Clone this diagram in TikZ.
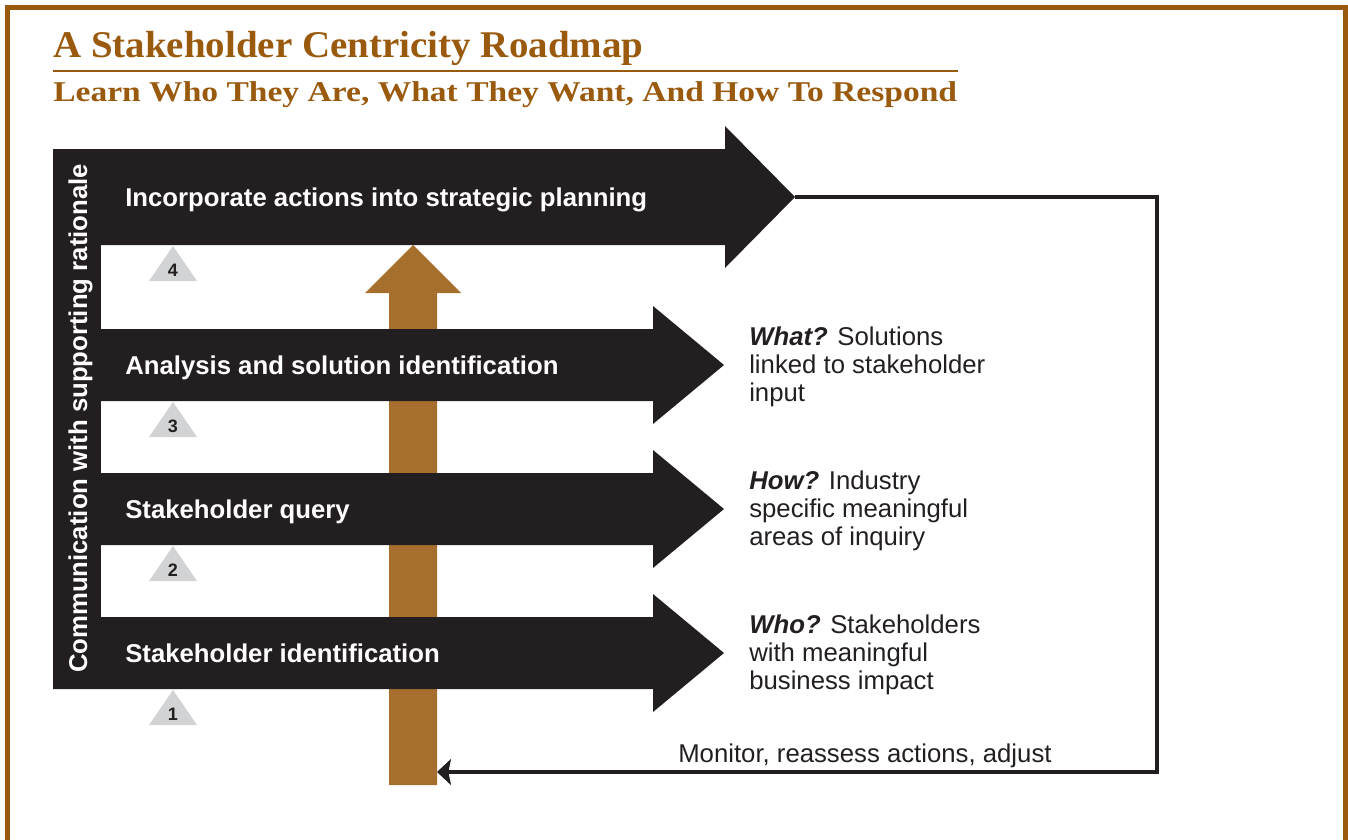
\documentclass[tikz,border=0pt]{standalone}
\usepackage{fontspec}
\setmainfont{Liberation Serif}
\newfontfamily\sansf{Liberation Sans}
\usetikzlibrary{arrows.meta}
\definecolor{tbrown}{HTML}{9A5A0E}
\definecolor{abrown}{HTML}{A76F2E}
\definecolor{ablack}{HTML}{231F20}
\definecolor{tgray}{HTML}{D1D3D4}
\begin{document}
\begin{tikzpicture}[x=0.75pt,y=-0.75pt,
  lbl/.style={text=white, font=\sansf\bfseries\fontsize{19.3}{23}\selectfont, anchor=base west, inner sep=0},
  side/.style={anchor=base west, inner sep=0, text=ablack},
  num/.style={font=\sansf\bfseries\fontsize{13.5}{16}\selectfont, text=ablack, anchor=base, inner sep=0},
  tri/.style={fill=tgray},
  blk/.style={fill=ablack},
  feedback/.style={draw=ablack, line width=3pt, -{Stealth[length=10.5pt,width=19.5pt,inset=2pt]}}
]
\useasboundingbox (0,0) rectangle (1348,839);
% frame
\draw[tbrown, line width=3.75pt] (7.5,850) -- (7.5,7.5) -- (1345.5,7.5) -- (1345.5,850);
% title
\node[anchor=base west, inner sep=0, text=tbrown, font=\bfseries\fontsize{28.3}{30}\selectfont] (title) at (53,57) {\scalebox{1.033}[1]{A Stakeholder Centricity Roadmap}};
\draw[tbrown, line width=1.5pt] (53,71) -- (958,71);
\node[anchor=base west, inner sep=0, text=tbrown, font=\bfseries\fontsize{21.5}{24}\selectfont] (subtitle) at (53,101) {\scalebox{1.17}[1]{Learn Who They Are, What They Want, And How To Respond}};
% brown upward arrow
\fill[abrown] (389,785) -- (437,785) -- (437,293) -- (461,293) -- (413,245) -- (365,293) -- (389,293) -- cycle;
% left bar
\fill[blk] (53,149) rectangle (101,689);
% arrow 4
\fill[blk] (53,149) -- (725,149) -- (725,126) -- (795,197) -- (725,268) -- (725,245) -- (53,245) -- cycle;
% arrows 3,2,1
\foreach \c in {365,509,653}{
  \fill[blk] (53,\c-36) -- (653,\c-36) -- (653,\c-59) -- (724,\c) -- (653,\c+59) -- (653,\c+36) -- (53,\c+36) -- cycle;
}
% triangles
\foreach \a/\n in {246/4,402/3,546/2,690/1}{
  \fill[tri] (173,\a) -- (197,\a+35) -- (149,\a+35) -- cycle;
  \node[num] (n\n) at (173,\a+30) {\n};
}
% vertical label
\node[text=white, font=\sansf\bfseries\fontsize{19.3}{23}\selectfont, rotate=90, anchor=base, inner sep=0] (comm) at (87,418.5) {Communication with supporting rationale};
% arrow labels
\node[lbl] (l4) at (125,206) {Incorporate actions into strategic planning};
\node[lbl] (l3) at (125,374) {Analysis and solution identification};
\node[lbl] (l2) at (125,518) {Stakeholder query};
\node[lbl] (l1) at (125,662) {Stakeholder identification};
% side texts
\node[side] (what) at (749,345) {\parbox[t]{270pt}{\sansf\fontsize{19.3}{21}\selectfont\textbf{\textit{What?}} Solutions\\linked to stakeholder\\input}};
\node[side] (how) at (749,489) {\parbox[t]{270pt}{\sansf\fontsize{19.3}{21}\selectfont\textbf{\textit{How?}} Industry\\specific meaningful\\areas of inquiry}};
\node[side] (who) at (749,633) {\parbox[t]{270pt}{\sansf\fontsize{19.3}{21}\selectfont\textbf{\textit{Who?}} Stakeholders\\with meaningful\\business impact}};
% feedback loop
\coordinate (tip4) at (795,197);
\coordinate (corner) at (1157,197);
\coordinate (shaftE) at (437,772);
\draw[feedback] (tip4) -- (corner) |- (shaftE);
\node[side, font=\sansf\fontsize{19.3}{21}\selectfont] (monitor) at (678,762) {Monitor, reassess actions, adjust};
\end{tikzpicture}
\end{document}
